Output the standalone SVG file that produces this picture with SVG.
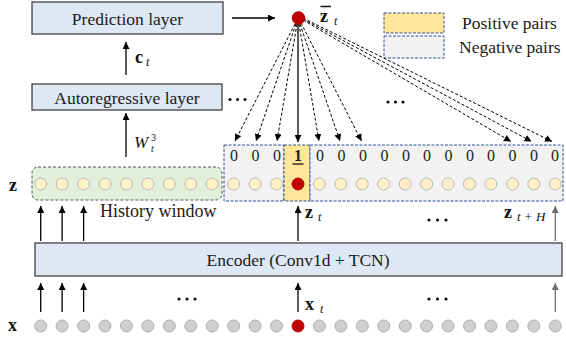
<svg xmlns="http://www.w3.org/2000/svg" width="566" height="341" viewBox="0 0 566 341">
<defs>
<marker id="ah" viewBox="0 0 10 10" refX="10" refY="5" markerWidth="7" markerHeight="7" markerUnits="userSpaceOnUse" orient="auto"><path d="M0,0 L10,5 L0,10 z" fill="#000"/></marker>
<marker id="ahg" viewBox="0 0 10 10" refX="10" refY="5" markerWidth="7" markerHeight="7" markerUnits="userSpaceOnUse" orient="auto"><path d="M0,0 L10,5 L0,10 z" fill="#6e6e6e"/></marker>
<style>
text{font-family:"Liberation Serif","Times New Roman","DejaVu Serif",serif}
.box{fill:#dee8f4;stroke:#404040;stroke-width:1.3}
.lbl{font-size:17.5px;fill:#1a1a1a}
.zero{font-size:16px;fill:#222;text-anchor:middle}
.bm{font-weight:bold;font-size:18px;fill:#111}
.it{font-style:italic;font-size:12px;fill:#111}
.zc{fill:#fff0c8;stroke:#b8b8b8;stroke-width:1}
.xc{fill:#d0cece;stroke:#b0b0b0;stroke-width:1}
.red{fill:#c00000;stroke:#c00000}
.neg{fill:#f2f2f2;stroke:#2f5597;stroke-width:1;stroke-dasharray:3,1.5}
.pos{fill:#ffe699;stroke:#2f5597;stroke-width:1;stroke-dasharray:3,1.5}
.a{stroke:#000;stroke-width:1.3;fill:none;marker-end:url(#ah)}
.ag{stroke:#6e6e6e;stroke-width:1.3;fill:none;marker-end:url(#ahg)}
.d{stroke:#000;stroke-width:1;fill:none;stroke-dasharray:3,2;marker-end:url(#ah)}
.dots{fill:#111}
</style>
</defs>

<g id="legend">
<rect class="pos" x="384" y="13" width="60" height="20"/>
<rect class="neg" x="384" y="36" width="60" height="22"/>
<text class="lbl" x="462" y="29" font-family="Liberation Serif, serif">Positive pairs</text>
<text class="lbl" x="459" y="53" font-family="Liberation Serif, serif">Negative pairs</text>
</g>

<g id="prediction-layer">
<rect class="box" x="32" y="2" width="191" height="32"/>
<text class="lbl" x="127.5" y="25" text-anchor="middle">Prediction layer</text>
</g>

<g id="autoregressive-layer">
<rect class="box" x="32" y="84" width="190" height="26"/>
<text class="lbl" x="127" y="104" text-anchor="middle">Autoregressive layer</text>
</g>

<g id="encoder">
<rect class="box" x="35" y="243" width="527" height="33"/>
<text class="lbl" x="298" y="266" text-anchor="middle">Encoder (Conv1d + TCN)</text>
</g>

<g id="history-window">
<rect x="32" y="167" width="190" height="33" rx="6" fill="#e2efda" stroke="#595959" stroke-width="1" stroke-dasharray="3,2"/>
<text class="lbl" x="100" y="217" style="font-size:18px">History window</text>
</g>

<g id="pairs">
<rect class="neg" x="224" y="145" width="60" height="56"/>
<rect class="pos" x="284" y="145" width="26" height="56"/>
<rect class="neg" x="310" y="145" width="253" height="56"/>
<g>
<text class="zero" x="234" y="161">0</text>
<text class="zero" x="255.5" y="161">0</text>
<text class="zero" x="277" y="161">0</text>
<text class="zero" x="298" y="161" style="font-weight:bold">1</text>
<line x1="292.5" y1="164" x2="303.5" y2="164" stroke="#111" stroke-width="1.3"/>
<text class="zero" x="320" y="161">0</text>
<text class="zero" x="341.5" y="161">0</text>
<text class="zero" x="363" y="161">0</text>
<text class="zero" x="384.5" y="161">0</text>
<text class="zero" x="406" y="161">0</text>
<text class="zero" x="427" y="161">0</text>
<text class="zero" x="448.5" y="161">0</text>
<text class="zero" x="470" y="161">0</text>
<text class="zero" x="491" y="161">0</text>
<text class="zero" x="512.5" y="161">0</text>
<text class="zero" x="534" y="161">0</text>
<text class="zero" x="555" y="161">0</text>
</g>
</g>

<g id="z-row">
<circle class="zc" cx="40.7" cy="184" r="6"/>
<circle class="zc" cx="62.1" cy="184" r="6"/>
<circle class="zc" cx="83.6" cy="184" r="6"/>
<circle class="zc" cx="105" cy="184" r="6"/>
<circle class="zc" cx="126.5" cy="184" r="6"/>
<circle class="zc" cx="147.9" cy="184" r="6"/>
<circle class="zc" cx="169.3" cy="184" r="6"/>
<circle class="zc" cx="190.8" cy="184" r="6"/>
<circle class="zc" cx="212.2" cy="184" r="6"/>
<circle class="zc" cx="233.7" cy="184" r="6"/>
<circle class="zc" cx="255.1" cy="184" r="6"/>
<circle class="zc" cx="276.5" cy="184" r="6"/>
<circle class="red" cx="298" cy="184" r="6"/>
<circle class="zc" cx="319.4" cy="184" r="6"/>
<circle class="zc" cx="340.9" cy="184" r="6"/>
<circle class="zc" cx="362.3" cy="184" r="6"/>
<circle class="zc" cx="383.7" cy="184" r="6"/>
<circle class="zc" cx="405.2" cy="184" r="6"/>
<circle class="zc" cx="426.6" cy="184" r="6"/>
<circle class="zc" cx="448.1" cy="184" r="6"/>
<circle class="zc" cx="469.5" cy="184" r="6"/>
<circle class="zc" cx="490.9" cy="184" r="6"/>
<circle class="zc" cx="512.4" cy="184" r="6"/>
<circle class="zc" cx="533.8" cy="184" r="6"/>
<circle class="zc" cx="555.3" cy="184" r="6"/>
</g>

<g id="x-row">
<circle class="xc" cx="40.7" cy="326" r="6"/>
<circle class="xc" cx="62.1" cy="326" r="6"/>
<circle class="xc" cx="83.6" cy="326" r="6"/>
<circle class="xc" cx="105" cy="326" r="6"/>
<circle class="xc" cx="126.5" cy="326" r="6"/>
<circle class="xc" cx="147.9" cy="326" r="6"/>
<circle class="xc" cx="169.3" cy="326" r="6"/>
<circle class="xc" cx="190.8" cy="326" r="6"/>
<circle class="xc" cx="212.2" cy="326" r="6"/>
<circle class="xc" cx="233.7" cy="326" r="6"/>
<circle class="xc" cx="255.1" cy="326" r="6"/>
<circle class="xc" cx="276.5" cy="326" r="6"/>
<circle class="red" cx="298" cy="326" r="6"/>
<circle class="xc" cx="319.4" cy="326" r="6"/>
<circle class="xc" cx="340.9" cy="326" r="6"/>
<circle class="xc" cx="362.3" cy="326" r="6"/>
<circle class="xc" cx="383.7" cy="326" r="6"/>
<circle class="xc" cx="405.2" cy="326" r="6"/>
<circle class="xc" cx="426.6" cy="326" r="6"/>
<circle class="xc" cx="448.1" cy="326" r="6"/>
<circle class="xc" cx="469.5" cy="326" r="6"/>
<circle class="xc" cx="490.9" cy="326" r="6"/>
<circle class="xc" cx="512.4" cy="326" r="6"/>
<circle class="xc" cx="533.8" cy="326" r="6"/>
<circle class="xc" cx="555.3" cy="326" r="6"/>
</g>

<g id="connectors">
<line class="a" x1="232" y1="18" x2="275" y2="18"/>
<line class="a" x1="126" y1="75" x2="126" y2="42"/>
<line class="a" x1="126" y1="157" x2="126" y2="113"/>
<line class="a" x1="40.7" y1="312" x2="40.7" y2="283"/>
<line class="a" x1="62.1" y1="312" x2="62.1" y2="283"/>
<line class="a" x1="83.6" y1="312" x2="83.6" y2="283"/>
<line class="a" x1="298" y1="312" x2="298" y2="283"/>
<line class="ag" x1="555.3" y1="312" x2="555.3" y2="283"/>
<line class="a" x1="40.7" y1="241" x2="40.7" y2="206"/>
<line class="a" x1="62.1" y1="241" x2="62.1" y2="206"/>
<line class="a" x1="83.6" y1="241" x2="83.6" y2="206"/>
<line class="a" x1="298" y1="241" x2="298" y2="206"/>
<line class="ag" x1="555.3" y1="241" x2="555.3" y2="206"/>
<line class="a" x1="298" y1="24" x2="298" y2="142"/>
<line class="d" x1="295" y1="24" x2="235" y2="141"/>
<line class="d" x1="296" y1="24" x2="256" y2="141"/>
<line class="d" x1="297" y1="24" x2="277" y2="141"/>
<line class="d" x1="299" y1="24" x2="319" y2="141"/>
<line class="d" x1="300" y1="24" x2="340" y2="141"/>
<line class="d" x1="301" y1="23" x2="361.5" y2="141"/>
<line class="d" x1="303" y1="20" x2="511" y2="141.5"/>
<line class="d" x1="303" y1="19" x2="531.5" y2="141.5"/>
<line class="d" x1="303" y1="18" x2="552" y2="141.5"/>
</g>

<g id="zbar-node">
<circle class="red" cx="298.5" cy="18" r="6.3"/>
<text class="bm" x="320" y="22">z</text>
<line x1="320.5" y1="6.5" x2="331" y2="6.5" stroke="#111" stroke-width="1.5"/>
<text class="it" x="334" y="25">t</text>
</g>

<g id="labels">
<text class="bm" x="9" y="191">z</text>
<text class="bm" x="8" y="331">x</text>
<text class="bm" x="135" y="63">c</text>
<text class="it" x="146" y="66">t</text>
<text class="it" x="134" y="148" style="font-size:17px">W</text>
<text class="it" x="151" y="141" style="font-size:10px;font-style:normal">3</text>
<text class="it" x="151" y="152" style="font-size:10px">t</text>
<text class="bm" x="305" y="218">z</text>
<text class="it" x="318" y="221">t</text>
<text class="bm" x="305" y="310">x</text>
<text class="it" x="320" y="313">t</text>
<text class="bm" x="504" y="218">z</text>
<text class="it" x="517" y="221" style="font-size:13px">t + H</text>
</g>

<g id="ellipses" class="dots">
<circle cx="230" cy="99.5" r="1.6"/><circle cx="237.5" cy="99.5" r="1.6"/><circle cx="245" cy="99.5" r="1.6"/>
<circle cx="388" cy="102" r="1.6"/><circle cx="395.5" cy="102" r="1.6"/><circle cx="403" cy="102" r="1.6"/>
<circle cx="429" cy="220" r="1.6"/><circle cx="437.5" cy="220" r="1.6"/><circle cx="446" cy="220" r="1.6"/>
<circle cx="179" cy="299" r="1.6"/><circle cx="187" cy="299" r="1.6"/><circle cx="195" cy="299" r="1.6"/>
<circle cx="429" cy="299" r="1.6"/><circle cx="437.5" cy="299" r="1.6"/><circle cx="446" cy="299" r="1.6"/>
</g>
</svg>
